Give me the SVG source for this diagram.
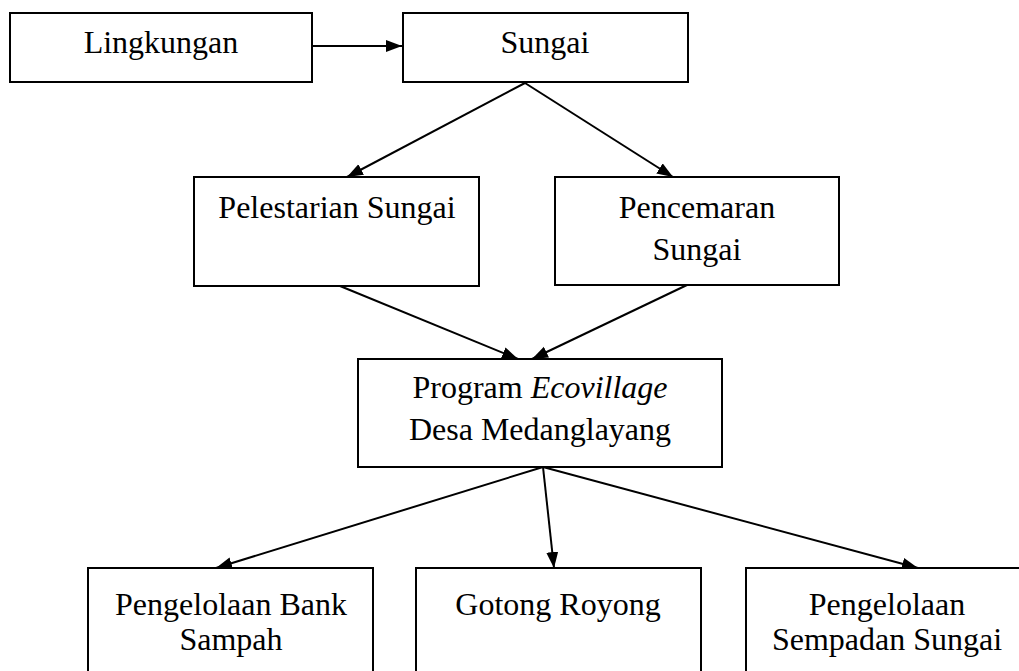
<svg xmlns="http://www.w3.org/2000/svg" width="1019" height="671" viewBox="0 0 1019 671">
<style>
.box{fill:#fff;stroke:#000;stroke-width:2}
.t{font-family:"Liberation Serif","Times New Roman",serif;font-size:32px;fill:#000;text-anchor:middle}
.c{stroke:#000;stroke-width:2;fill:none;marker-end:url(#ah)}
</style>
<defs>
<marker id="ah" markerUnits="userSpaceOnUse" markerWidth="17" markerHeight="13" refX="16" refY="6" orient="auto">
<path d="M0,0 L16,6 L0,12 Z" fill="#000"/>
</marker>
</defs>
<rect width="1019" height="671" fill="#fff"/>
<g id="connectors">
<line class="c" x1="312" y1="46" x2="402" y2="46"/>
<line class="c" x1="525" y1="83" x2="347" y2="177"/>
<line class="c" x1="525" y1="83" x2="673" y2="177"/>
<line class="c" x1="340" y1="286" x2="518" y2="359"/>
<line class="c" x1="687" y1="285" x2="532" y2="359"/>
<line class="c" x1="543" y1="467" x2="216" y2="568"/>
<line class="c" x1="543" y1="467" x2="554" y2="568"/>
<line class="c" x1="543" y1="467" x2="918" y2="568"/>
</g>
<g id="lingkungan">
<rect class="box" x="10" y="13" width="302" height="69"/>
<text class="t" x="161" y="53">Lingkungan</text>
</g>
<g id="sungai">
<rect class="box" x="403" y="13" width="285" height="69"/>
<text class="t" x="545" y="53">Sungai</text>
</g>
<g id="pelestarian">
<rect class="box" x="194" y="177" width="285" height="109"/>
<text class="t" x="337" y="218">Pelestarian Sungai</text>
</g>
<g id="pencemaran">
<rect class="box" x="555" y="177" width="284" height="108"/>
<text class="t" x="697" y="218">Pencemaran</text>
<text class="t" x="697" y="260">Sungai</text>
</g>
<g id="program">
<rect class="box" x="358" y="359" width="364" height="108"/>
<text class="t" x="540" y="398">Program <tspan font-style="italic">Ecovillage</tspan></text>
<text class="t" x="540" y="440">Desa Medanglayang</text>
</g>
<g id="bank-sampah">
<rect class="box" x="88" y="568" width="285" height="115"/>
<text class="t" x="231" y="615">Pengelolaan Bank</text>
<text class="t" x="231" y="650">Sampah</text>
</g>
<g id="gotong-royong">
<rect class="box" x="416" y="568" width="285" height="115"/>
<text class="t" x="558" y="615">Gotong Royong</text>
</g>
<g id="sempadan">
<rect class="box" x="746" y="568" width="285" height="115"/>
<text class="t" x="887" y="615">Pengelolaan</text>
<text class="t" x="887" y="650">Sempadan Sungai</text>
</g>
</svg>
